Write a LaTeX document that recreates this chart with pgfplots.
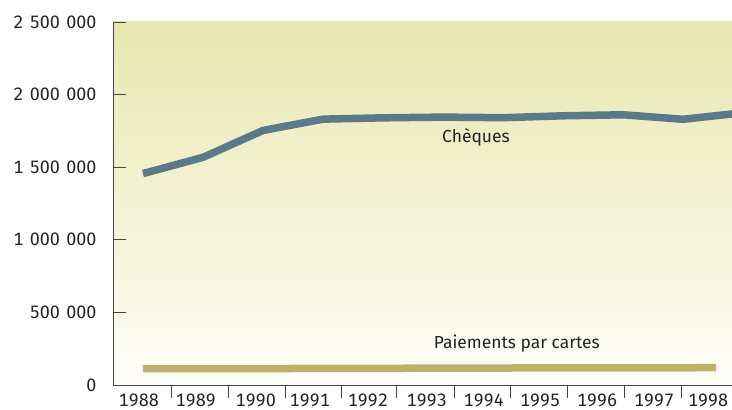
\documentclass[border=0pt]{standalone}
\usepackage{fontspec}
\setmainfont{Fira Sans}[Numbers={Lining,Monospaced}]
\usepackage{pgfplots}
\pgfplotsset{compat=1.18}
\definecolor{cheq}{RGB}{90,122,138}
\definecolor{card}{RGB}{189,176,106}
\definecolor{bgtop}{RGB}{232,231,176}
\definecolor{bgbot}{RGB}{254,254,248}
\definecolor{axc}{RGB}{70,70,62}
\definecolor{txt}{RGB}{35,35,35}
\newcommand\ts{\hspace{0.36em}}
\begin{document}
\begin{tikzpicture}
\begin{axis}[
  scale only axis, width=619bp, height=363bp,
  xmin=-0.5, xmax=9.8167, ymin=0, ymax=2500000,
  axis x line*=bottom, axis y line*=left,
  axis line style={axc, line width=0.8pt},
  scaled y ticks=false,
  ytick={0,500000,1000000,1500000,2000000,2500000},
  yticklabels={0,500\ts000,1\ts000\ts000,1\ts500\ts000,2\ts000\ts000,2\ts500\ts000},
  tick align=outside, major tick length=13bp,
  tick style={axc, line width=0.8pt},
  ytick style={xshift=13bp},
  xtick={0.48,1.42,2.37,3.3,4.23,5.19,6.13,7.08,8.02,8.97},
  xticklabels={},
  extra x ticks={-0.07,0.88,1.88,2.78,3.75,4.73,5.68,6.62,7.57,8.52,9.42},
  extra x tick labels={1988,1989,1990,1991,1992,1993,1994,1995,1996,1997,\raisebox{4bp}{1998}},
  extra x tick style={major tick length=0pt, tick label style={yshift=-5bp}},
  /pgf/number format/assume math mode=true,
  tick label style={font=\fontsize{18}{21}\selectfont, text=txt},
  axis background/.style={top color=bgtop, bottom color=bgbot},
  clip=true,
]
\addplot[cheq, line width=7.5bp, line join=round] coordinates {
  (0,1456000) (1,1568000) (2,1753000) (3,1831000) (4,1840000) (5,1845000)
  (6,1841000) (7,1854000) (8,1861000) (9,1830000) (10,1875000)};
\addplot[card, line width=7.5bp] coordinates {
  (0,112000) (3,114000) (6,117000) (9.55,119000)};
\node[text=txt, font=\fontsize{17.5}{20}\selectfont] at (axis cs:5.55,1702000) {Chèques};
\node[text=txt, font=\fontsize{17.5}{20}\selectfont] at (axis cs:6.23,283000) {Paiements par cartes};
\end{axis}
\pgfresetboundingbox
\path (-113bp,-25bp) rectangle (619bp,385bp);
\end{tikzpicture}
\end{document}
